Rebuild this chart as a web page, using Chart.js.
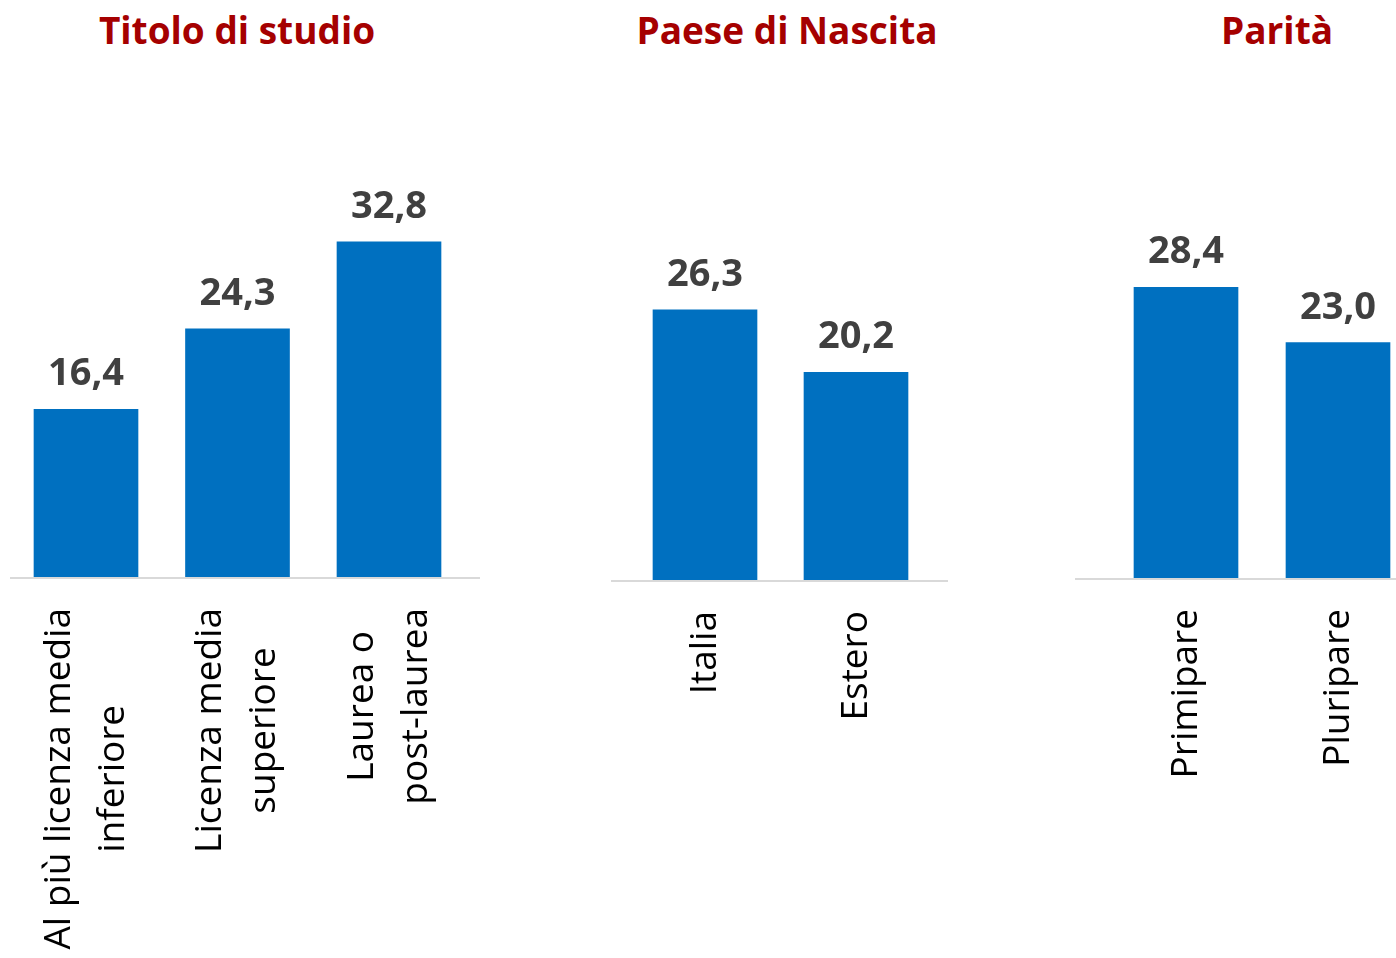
<!DOCTYPE html>
<html>
<head>
<meta charset="utf-8">
<script src="https://cdn.jsdelivr.net/npm/chart.js@4/dist/chart.umd.min.js"></script>
<style>
  body { margin: 0; background: #fff; width: 1396px; height: 958px; position: relative; overflow: hidden; }
  canvas { position: absolute; top: 60px; }
  .title { position: absolute; top: 8px; width: 400px; text-align: center; font: bold 37px "Open Sans", sans-serif; line-height: 44px; color: #A50000; }
</style>
</head>
<body>
<div class="title" id="t0"></div>
<div class="title" id="t1"></div>
<div class="title" id="t2"></div>
<canvas id="c0" width="470" height="898" style="left:10px"></canvas>
<canvas id="c1" width="337" height="898" style="left:611px"></canvas>
<canvas id="c2" width="321" height="898" style="left:1075px"></canvas>
<script>
// data
const panelTitles = ['Titolo di studio', 'Paese di Nascita', 'Parità'];
const titoloLabels = [['Al più licenza media', 'inferiore'], ['Licenza media', 'superiore'], ['Laurea o', 'post-laurea']];
const titoloValues = [16.4, 24.3, 32.8];
const paeseLabels = ['Italia', 'Estero'];
const paeseValues = [26.3, 20.2];
const paritaLabels = ['Primipare', 'Pluripare'];
const paritaValues = [28.4, 23.0];

const titleCenters = [237, 787, 1277];
panelTitles.forEach((t, i) => {
    const el = document.getElementById('t' + i);
    el.textContent = t;
    el.style.left = (titleCenters[i] - 200) + 'px';
});

// baseline, value labels and rotated category labels
const decorPlugin = {
    id: 'decor',
    afterDatasetsDraw(chart) {
        const ctx = chart.ctx;
        const x = chart.scales.x;
        const y = chart.scales.y;
        const base = y.getPixelForValue(0);

        ctx.save();
        ctx.strokeStyle = '#d9d9d9';
        ctx.lineWidth = 2;
        ctx.beginPath();
        ctx.moveTo(0, base + 1);
        ctx.lineTo(chart.width, base + 1);
        ctx.stroke();

        ctx.fillStyle = '#404040';
        ctx.font = 'bold 38px "Open Sans"';
        ctx.textAlign = 'center';
        ctx.textBaseline = 'alphabetic';
        const meta = chart.getDatasetMeta(0);
        meta.data.forEach((bar, i) => {
            const v = chart.data.datasets[0].data[i];
            ctx.fillText(v.toFixed(1).replace('.', ','), bar.x, bar.y - 24);
        });

        ctx.fillStyle = '#000';
        ctx.font = '37px "Open Sans"';
        ctx.textBaseline = 'middle';
        chart.data.labels.forEach((lab, i) => {
            const lines = Array.isArray(lab) ? lab : [lab];
            const maxW = Math.max(...lines.map(l => ctx.measureText(l).width));
            ctx.save();
            ctx.translate(x.getPixelForTick(i), base + 31);
            ctx.rotate(-Math.PI / 2);
            lines.forEach((l, k) => {
                ctx.fillText(l, -maxW / 2, (k - (lines.length - 1) / 2) * 54);
            });
            ctx.restore();
        });
        ctx.restore();
    }
};

function makeChart(id, labels, values, pad, axisHeight) {
    new Chart(document.getElementById(id), {
        type: 'bar',
        data: {
            labels: labels,
            datasets: [{
                data: values,
                backgroundColor: '#0070C0',
                barThickness: 104,
                clip: false
            }]
        },
        options: {
            responsive: false,
            animation: false,
            layout: { padding: { left: pad[0], right: pad[1], top: 0, bottom: 0 } },
            plugins: { legend: { display: false }, tooltip: { enabled: false } },
            scales: {
                x: {
                    offset: false,
                    grid: { display: false },
                    border: { display: false },
                    ticks: { display: false },
                    afterFit: s => { s.height = axisHeight; }
                },
                y: { display: false, min: 0, max: 50.6 }
            }
        },
        plugins: [decorPlugin]
    });
}

makeChart('c0', titoloLabels, titoloValues, [76, 91], 381);
makeChart('c1', paeseLabels, paeseValues, [94, 92], 378);
makeChart('c2', paritaLabels, paritaValues, [111, 58], 380);
</script>
</body>
</html>
